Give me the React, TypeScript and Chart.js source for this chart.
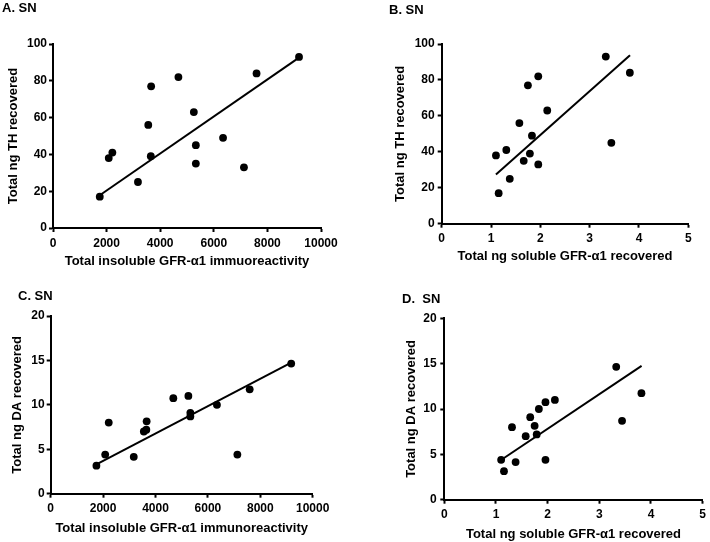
import React, { useEffect, useRef } from "react";
import { Chart, registerables } from "chart.js";

Chart.register(...registerables);

// ---- Data (one entry per sample) ----
const insolubleGFR = [1745, 2080, 2215, 3170, 3555, 3662, 3650, 4680, 5255, 5330, 5330, 6345, 7125, 7595, 9180];
const solubleGFR = [1.155, 1.1, 1.31, 1.38, 1.575, 1.748, 1.788, 1.958, 2.14, 3.44, 1.663, 1.83, 1.958, 3.815, 3.327];
const totalTH = [17, 38, 41, 25, 56, 77, 39, 82, 63, 45, 35, 49, 33, 84, 93];
const totalDA = [3.15, 4.4, 8.0, 4.15, 7.0, 8.15, 7.2, 10.75, 11.0, 8.7, 9.1, 10.0, 4.4, 11.75, 14.65];

// fitted-line end points
const fitA_x = [1745, 9180];
const fitA_y = [17.8, 92.6];
const fitB_x = [1.1, 3.818];
const fitB_y = [27.4, 93.8];
const fitC_x = [1745, 9180];
const fitC_y = [3.3, 14.75];
const fitD_x = [1.105, 3.818];
const fitD_y = [4.4, 14.75];

const FONT = '"Liberation Sans", Arial, Helvetica, sans-serif';

type Cfg = {
  label: string;
  labelLeft: number;
  labelTop: number;
  left: number;
  top: number;
  xs: number[];
  ys: number[];
  fx: number[];
  fy: number[];
  xMax: number;
  xStep: number;
  yMax: number;
  yStep: number;
  xTitle: string;
  yTitle: string;
  padTop: number;
  padRight: number;
  yW: number;
  xH: number;
  yTitlePad: number;
  yTickPad: number;
  xTickPad: number;
  xTitlePadB: number;
};

const W = 355;
const H = 271;

function Panel({ cfg }: { cfg: Cfg }) {
  const ref = useRef<HTMLCanvasElement>(null);
  useEffect(() => {
    if (!ref.current) return;
    const tickFont = { family: FONT, size: 12, weight: "bold" as const };
    const titleFont = { family: FONT, size: 13, weight: "bold" as const };
    const chart = new Chart(ref.current, {
      type: "scatter",
      data: {
        datasets: [
          {
            data: cfg.xs.map((x, i) => ({ x, y: cfg.ys[i] })),
            pointRadius: 3.9,
            pointHoverRadius: 3.9,
            backgroundColor: "#000",
            borderWidth: 0,
            showLine: false,
          },
          {
            data: cfg.fx.map((x, i) => ({ x, y: cfg.fy[i] })),
            showLine: true,
            pointRadius: 0,
            borderColor: "#000",
            borderWidth: 2,
            fill: false,
          },
        ],
      },
      options: {
        responsive: false,
        maintainAspectRatio: false,
        animation: false,
        events: [],
        layout: { padding: { top: cfg.padTop, right: cfg.padRight, left: 0, bottom: 0 } },
        plugins: { legend: { display: false }, tooltip: { enabled: false }, title: { display: false } },
        scales: {
          x: {
            type: "linear",
            position: "bottom",
            min: 0,
            max: cfg.xMax,
            afterFit: (s: any) => {
              s.height = cfg.xH;
            },
            ticks: {
              stepSize: cfg.xStep,
              padding: cfg.xTickPad,
              font: tickFont,
              color: "#000",
              maxRotation: 0,
              autoSkip: false,
              callback: (v: any) => String(v),
            },
            grid: { drawOnChartArea: false, drawTicks: true, tickLength: 4, tickWidth: 2, tickColor: "#000" },
            border: { display: true, color: "#000", width: 2 },
            title: {
              display: true,
              text: cfg.xTitle,
              font: titleFont,
              color: "#000",
              padding: { top: 0, bottom: cfg.xTitlePadB },
            },
          },
          y: {
            type: "linear",
            position: "left",
            min: 0,
            max: cfg.yMax,
            afterFit: (s: any) => {
              s.width = cfg.yW;
            },
            ticks: {
              stepSize: cfg.yStep,
              padding: cfg.yTickPad,
              font: tickFont,
              color: "#000",
              autoSkip: false,
              callback: (v: any) => String(v),
            },
            grid: { drawOnChartArea: false, drawTicks: true, tickLength: 4, tickWidth: 2, tickColor: "#000" },
            border: { display: true, color: "#000", width: 2 },
            title: {
              display: true,
              text: cfg.yTitle,
              font: titleFont,
              color: "#000",
              padding: { top: cfg.yTitlePad, bottom: 0 },
            },
          },
        },
      },
    } as any);
    return () => chart.destroy();
  }, [cfg]);
  return (
    <>
      <canvas
        ref={ref}
        width={W}
        height={H}
        style={{ position: "absolute", left: cfg.left, top: cfg.top, width: W, height: H }}
      />
      <div
        style={{
          position: "absolute",
          left: cfg.labelLeft,
          top: cfg.labelTop,
          font: `bold 13px ${FONT}`,
          lineHeight: "15px",
          whiteSpace: "pre",
          color: "#000",
        }}
      >
        {cfg.label}
      </div>
    </>
  );
}

const panels: Cfg[] = [
  {
    label: "A. SN",
    labelLeft: 2,
    labelTop: 0,
    left: 0,
    top: 0,
    xs: insolubleGFR,
    ys: totalTH,
    fx: fitA_x,
    fy: fitA_y,
    xMax: 10000,
    xStep: 2000,
    yMax: 100,
    yStep: 20,
    xTitle: "Total insoluble GFR-\u03b11 immuoreactivity",
    yTitle: "Total ng TH recovered",
    padTop: 44,
    padRight: 34,
    yW: 53,
    xH: 43,
    yTitlePad: 5.4,
    yTickPad: 2,
    xTickPad: 4,
    xTitlePadB: 1.4,
  },
  {
    label: "B. SN",
    labelLeft: 389,
    labelTop: 2,
    left: 355,
    top: 0,
    xs: solubleGFR,
    ys: totalTH,
    fx: fitB_x,
    fy: fitB_y,
    xMax: 5,
    xStep: 1,
    yMax: 100,
    yStep: 20,
    xTitle: "Total ng soluble GFR-\u03b11 recovered",
    yTitle: "Total ng TH recovered",
    padTop: 44,
    padRight: 21.7,
    yW: 86.7,
    xH: 47.3,
    yTitlePad: 37.9,
    yTickPad: 3,
    xTickPad: 4,
    xTitlePadB: 7.2,
  },
  {
    label: "C. SN",
    labelLeft: 18,
    labelTop: 288,
    left: 0,
    top: 271,
    xs: insolubleGFR,
    ys: totalDA,
    fx: fitC_x,
    fy: fitC_y,
    xMax: 10000,
    xStep: 2000,
    yMax: 20,
    yStep: 5,
    xTitle: "Total insoluble GFR-\u03b11 immunoreactivity",
    yTitle: "Total ng DA recovered",
    padTop: 45,
    padRight: 42.3,
    yW: 50.7,
    xH: 48.3,
    yTitlePad: 9.9,
    yTickPad: 2,
    xTickPad: 4,
    xTitlePadB: 6.2,
  },
  {
    label: "D.  SN",
    labelLeft: 402,
    labelTop: 291,
    left: 355,
    top: 271,
    xs: solubleGFR,
    ys: totalDA,
    fx: fitD_x,
    fy: fitD_y,
    xMax: 5,
    xStep: 1,
    yMax: 20,
    yStep: 5,
    xTitle: "Total ng soluble GFR-\u03b11 recovered",
    yTitle: "Total ng DA recovered",
    padTop: 47.3,
    padRight: 3.3,
    yW: 89.3,
    xH: 42.3,
    yTitlePad: 48.9,
    yTickPad: 3.6,
    xTickPad: 4,
    xTitlePadB: 0.2,
  },
];

export default function App() {
  return (
    <div style={{ position: "absolute", left: 0, top: 0, width: 710, height: 542, background: "#fff" }}>
      {panels.map((p) => (
        <Panel key={p.label} cfg={p} />
      ))}
    </div>
  );
}
